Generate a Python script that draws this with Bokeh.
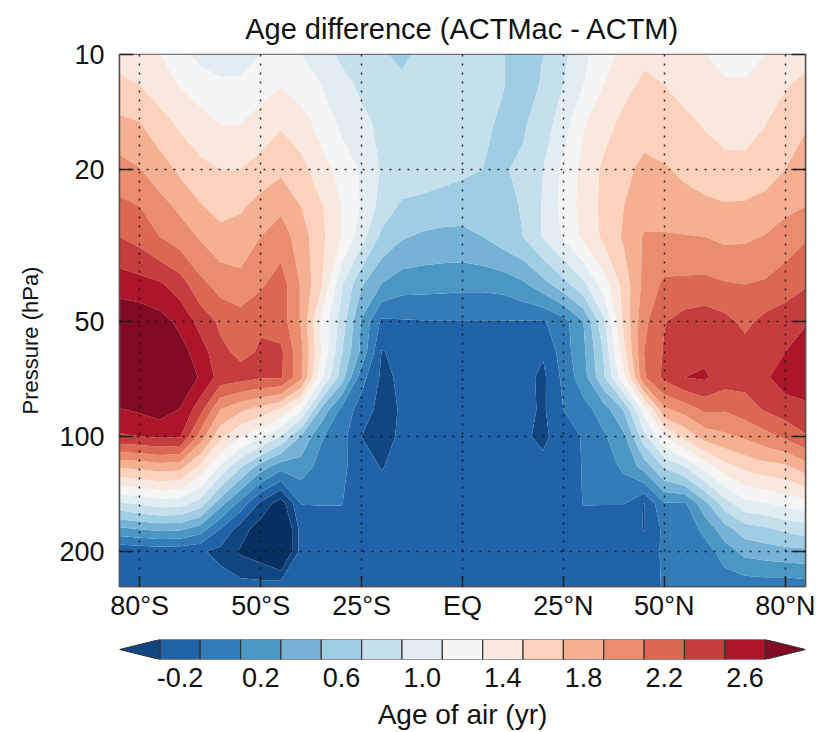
import numpy as np
from bokeh.embed import file_html
from bokeh.layouts import column
from bokeh.models import FixedTicker, LogAxis, Range1d, Title
from bokeh.plotting import figure
from bokeh.resources import INLINE

TITLE = "Age difference (ACTMac - ACTM)"
YLABEL = "Pressure (hPa)"
CBLABEL = "Age of air (yr)"
FONT = "Liberation Sans"

lat_ticks = [-80, -50, -25, 0, 25, 50, 80]
lat_labels = ["80°S", "50°S", "25°S", "EQ", "25°N", "50°N", "80°N"]
p_ticks = [10, 20, 50, 100, 200]
p_labels = ["10", "20", "50", "100", "200"]
cb_ticks = [-0.2, 0.2, 0.6, 1.0, 1.4, 1.8, 2.2, 2.6]
cb_labels = ["-0.2", "0.2", "0.6", "1.0", "1.4", "1.8", "2.2", "2.6"]

levels = [-2.0, -0.5, -0.3, -0.1, 0.1, 0.3, 0.5, 0.7, 0.9, 1.1, 1.3, 1.5, 1.7, 1.9, 2.1, 2.3, 2.5, 2.7, 4.0]
colors = ["#053061", "#114781", "#2063a9", "#327db8", "#4a97c4", "#75b2d6", "#9fcde3", "#c6dfed",
          "#e1ecf3", "#f5f5f5", "#f9e8dd", "#fcd2bc", "#f5b092", "#ea8d6e", "#da6853", "#c53e3d",
          "#ad162a", "#800b22"]

lats = [-85, -80, -75, -70, -65, -60, -55, -50, -45, -40, -35, -30, -25, -20, -15, -10, -5, 0,
        5, 10, 15, 20, 25, 30, 35, 40, 45, 50, 55, 60, 65, 70, 75, 80, 85]
pressures = [10, 12, 15, 20, 25, 30, 40, 50, 60, 70, 85, 100, 120, 150, 175, 200, 247]

p10 = [1.42, 1.38, 1.30, 1.17, 1.03, .92, .95, 1.1, 1.2, 1.1, .97, .87, .78, .74, .62, .8, .76, .76,
       .74, .71, .62, .7, .85, 1.05, 1.22, 1.36, 1.46, 1.46, 1.4, 1.31, 1.22, 1.2, 1.3, 1.38, 1.42]
p12 = [1.55, 1.5, 1.4, 1.29, 1.22, 1.17, 1.16, 1.22, 1.29, 1.2, 1.1, .95, .87, .8, .78, .78, .78, .77,
       .74, .71, .62, .72, .9, 1.1, 1.3, 1.44, 1.54, 1.5, 1.44, 1.38, 1.33, 1.33, 1.38, 1.48, 1.56]
p15 = [1.74, 1.7, 1.57, 1.46, 1.36, 1.29, 1.29, 1.38, 1.47, 1.38, 1.22, 1.05, .93, .87, .84, .82, .8, .78,
       .74, .67, .67, .8, 1.0, 1.28, 1.42, 1.55, 1.62, 1.58, 1.54, 1.48, 1.42, 1.42, 1.49, 1.6, 1.67]
p20 = [1.98, 1.91, 1.8, 1.66, 1.56, 1.5, 1.5, 1.58, 1.66, 1.57, 1.38, 1.23, 1.07, .88, .84, .82, .78, .74,
       .7, .68, .74, .9, 1.15, 1.36, 1.54, 1.65, 1.75, 1.72, 1.66, 1.6, 1.57, 1.56, 1.6, 1.7, 1.82]
p25 = [2.15, 2.1, 1.97, 1.86, 1.72, 1.62, 1.67, 1.78, 1.86, 1.7, 1.52, 1.3, 1.08, .82, .66, .63, .6, .58,
       .58, .62, .72, .92, 1.17, 1.38, 1.55, 1.7, 1.82, 1.8, 1.78, 1.75, 1.72, 1.73, 1.78, 1.85, 1.9]
p30 = [2.3, 2.23, 2.1, 2.0, 1.88, 1.78, 1.8, 1.9, 2.0, 1.8, 1.55, 1.3, .98, .65, .52, .47, .45, .45,
       .5, .6, .7, .92, 1.12, 1.35, 1.54, 1.73, 1.92, 1.92, 1.91, 1.9, 1.86, 1.87, 1.91, 2.0, 2.08]
p40 = [2.62, 2.58, 2.53, 2.4, 2.16, 2.02, 1.96, 2.07, 2.2, 1.88, 1.52, .93, .52, .29, .18, .17, .16, .15,
       .15, .17, .26, .42, .62, .85, 1.2, 1.58, 1.96, 2.14, 2.15, 2.16, 2.12, 2.1, 2.13, 2.2, 2.28]
p50 = [2.85, 2.84, 2.78, 2.65, 2.43, 2.26, 2.2, 2.28, 2.2, 1.88, 1.25, .82, .27, -.14, -.12, -.11, -.11, -.11,
       -.11, -.11, -.11, -.12, .02, .3, .85, 1.55, 2.05, 2.29, 2.38, 2.42, 2.36, 2.25, 2.36, 2.42, 2.48]
p60 = [2.9, 2.9, 2.88, 2.78, 2.6, 2.35, 2.25, 2.32, 2.34, 1.95, 1.3, .72, .25, -.31, -.25, -.2, -.17, -.17,
       -.17, -.18, -.22, -.28, 0.0, .26, .72, 1.45, 2.1, 2.32, 2.42, 2.45, 2.42, 2.38, 2.38, 2.5, 2.62]
p70 = [2.92, 2.92, 2.92, 2.85, 2.68, 2.42, 2.38, 2.32, 2.33, 1.95, 1.15, .6, -.02, -.34, -.27, -.22, -.18, -.17,
       -.17, -.18, -.24, -.34, -.05, .22, .67, 1.25, 2.08, 2.35, 2.5, 2.53, 2.4, 2.38, 2.47, 2.6, 2.62]
p85 = [2.69, 2.73, 2.8, 2.69, 2.38, 1.9, 1.74, 1.62, 1.47, 1.13, .46, .05, -.2, -.37, -.28, -.22, -.18, -.17,
       -.17, -.18, -.24, -.33, -.1, .02, .2, .52, 1.2, 1.86, 1.98, 2.14, 2.12, 2.2, 2.32, 2.4, 2.45]
p100 = [2.47, 2.5, 2.53, 2.52, 2.02, 1.55, 1.31, 1.14, .88, .48, .12, -.02, -.3, -.36, -.27, -.22, -.18, -.17,
        -.17, -.2, -.27, -.34, -.2, -.08, .07, .26, .82, 1.28, 1.55, 1.78, 1.86, 1.93, 2.03, 2.14, 2.28]
p120 = [1.72, 1.75, 1.8, 1.77, 1.45, 1.07, .72, .4, .18, .2, .03, -.05, -.22, -.31, -.23, -.2, -.18, -.17,
        -.17, -.18, -.21, -.25, -.18, -.09, 0.0, .14, .38, .72, .9, 1.17, 1.42, 1.55, 1.62, 1.66, 1.8]
p150 = [.85, .92, .98, .97, .8, .37, .02, -.35, -.62, -.095, -.095, -.095, -.18, -.2, -.18, -.18, -.18, -.17,
        -.17, -.17, -.18, -.19, -.17, -.095, -.095, -.095, -.31, .08, .06, .43, .8, 1.03, 1.08, 1.16, 1.22]
p175 = [.25, .3, .34, .33, .2, -.11, -.4, -.62, -.85, -.22, -.18, -.18, -.17, -.17, -.17, -.17, -.17, -.17,
        -.17, -.17, -.17, -.17, -.17, -.18, -.2, -.2, -.31, -.05, -.05, .16, .42, .6, .66, .74, .8]
p200 = [-.27, -.25, -.23, -.24, -.27, -.36, -.53, -.62, -.85, -.22, -.18, -.17, -.17, -.17, -.17, -.17, -.17, -.17,
        -.17, -.17, -.17, -.17, -.17, -.18, -.19, -.19, -.2, -.07, -.06, 0.0, .2, .36, .4, .43, .45]
p247 = [-.2, -.2, -.2, -.2, -.2, -.2, -.22, -.22, -.18, -.18, -.17, -.17, -.17, -.17, -.17, -.17, -.17, -.17,
        -.17, -.17, -.17, -.17, -.17, -.17, -.17, -.17, -.15, -.09, -.07, -.02, -.03, -.03, -.02, -.03, 0.0]

z = np.array([p10, p12, p15, p20, p25, p30, p40, p50, p60, p70, p85, p100, p120, p150, p175, p200, p247])

FRAME = "#555555"
TICK_FONT = "27px"

p = figure(width=816, height=628, x_range=Range1d(-85, 85), y_range=Range1d(247, 10), y_axis_type="log",
           output_backend="svg", toolbar_location=None, min_border_left=119, min_border_right=11,
           min_border_top=54, min_border_bottom=42, background_fill_color="white")
p.contour(lats, pressures, z, levels, fill_color=colors, line_color=None)

p.title.text = TITLE
p.title.align = "center"
p.title.text_font = FONT
p.title.text_font_size = "29px"
p.title.text_font_style = "normal"
p.title.text_color = "#111111"
p.title.standoff = 20

p.xaxis.ticker = FixedTicker(ticks=lat_ticks)
p.xaxis.major_label_overrides = dict(zip(lat_ticks, lat_labels))
p.yaxis.ticker = FixedTicker(ticks=p_ticks)
p.yaxis.major_label_overrides = dict(zip(p_ticks, p_labels))

ylabel = Title(text=YLABEL, align="left", offset=172, standoff=28, text_font=FONT, text_font_size="22px",
               text_font_style="normal", text_color="#111111")
p.add_layout(ylabel, "left")

for ax, tick_len, standoff in [(p.xaxis[0], 10, 4), (p.yaxis[0], 14, 15)]:
    ax.major_tick_in = tick_len
    ax.major_tick_out = 0
    ax.minor_tick_in = 0
    ax.minor_tick_out = 0
    ax.major_tick_line_color = "#222222"
    ax.major_tick_line_width = 1.5
    ax.axis_line_color = FRAME
    ax.axis_line_width = 1.5
    ax.major_label_text_font = FONT
    ax.major_label_text_font_size = TICK_FONT
    ax.major_label_text_color = "#111111"
    ax.major_label_standoff = standoff

right = LogAxis(ticker=FixedTicker(ticks=p_ticks), major_tick_in=14, major_tick_out=0,
                minor_tick_in=0, minor_tick_out=0,
                major_label_overrides={t: "" for t in p_ticks}, major_label_text_font_size="1px",
                major_label_standoff=0, major_tick_line_color="#222222", major_tick_line_width=1.5,
                axis_line_color=FRAME, axis_line_width=1.5)
p.add_layout(right, "right")

p.outline_line_color = FRAME
p.outline_line_width = 1.5
for g in [p.xgrid[0], p.ygrid[0]]:
    g.level = "overlay"
    g.grid_line_color = "#111111"
    g.grid_line_width = 1.5
    g.grid_line_dash = "2 7"
    g.grid_line_alpha = 0.85

# colour bar: boxes between contour levels, triangles for both open ends
box_left = levels[2:-2]
box_right = levels[3:-1]
box_colors = colors[2:-1]
cb_lo, cb_hi = -0.5, 2.9

cb = figure(width=816, height=104, x_range=Range1d(cb_lo, cb_hi), y_range=Range1d(0, 1),
            output_backend="svg", toolbar_location=None, min_border_left=118, min_border_right=10,
            min_border_top=11, min_border_bottom=71)
EDGE = "#333333"
cb.quad(left=box_left, right=box_right, bottom=0, top=1, fill_color=box_colors, line_color=EDGE, line_width=1.2)
cb.patches(xs=[[levels[2], cb_lo, levels[2]], [levels[-2], cb_hi, levels[-2]]],
           ys=[[0, 0.5, 1], [0, 0.5, 1]],
           fill_color=[colors[1], colors[-1]], line_color=EDGE, line_width=1)
cb.yaxis.visible = False
cb.grid.visible = False
cb.outline_line_color = None
cb.xaxis.ticker = FixedTicker(ticks=cb_ticks)
cb.xaxis.major_label_overrides = dict(zip(cb_ticks, cb_labels))
cb.xaxis.axis_line_color = None
cb.xaxis.major_tick_line_color = None
cb.xaxis.minor_tick_line_color = None
cb.xaxis.major_label_text_font = FONT
cb.xaxis.major_label_text_font_size = TICK_FONT
cb.xaxis.major_label_text_color = "#111111"
cb.xaxis.major_label_standoff = 2
cb.xaxis.axis_label = CBLABEL
cb.xaxis.axis_label_text_font = FONT
cb.xaxis.axis_label_text_font_size = "28px"
cb.xaxis.axis_label_text_font_style = "normal"
cb.xaxis.axis_label_text_color = "#111111"
cb.xaxis.axis_label_standoff = 9

layout = column(p, cb, spacing=0)
open("out.html", "w").write(file_html(layout, INLINE))
